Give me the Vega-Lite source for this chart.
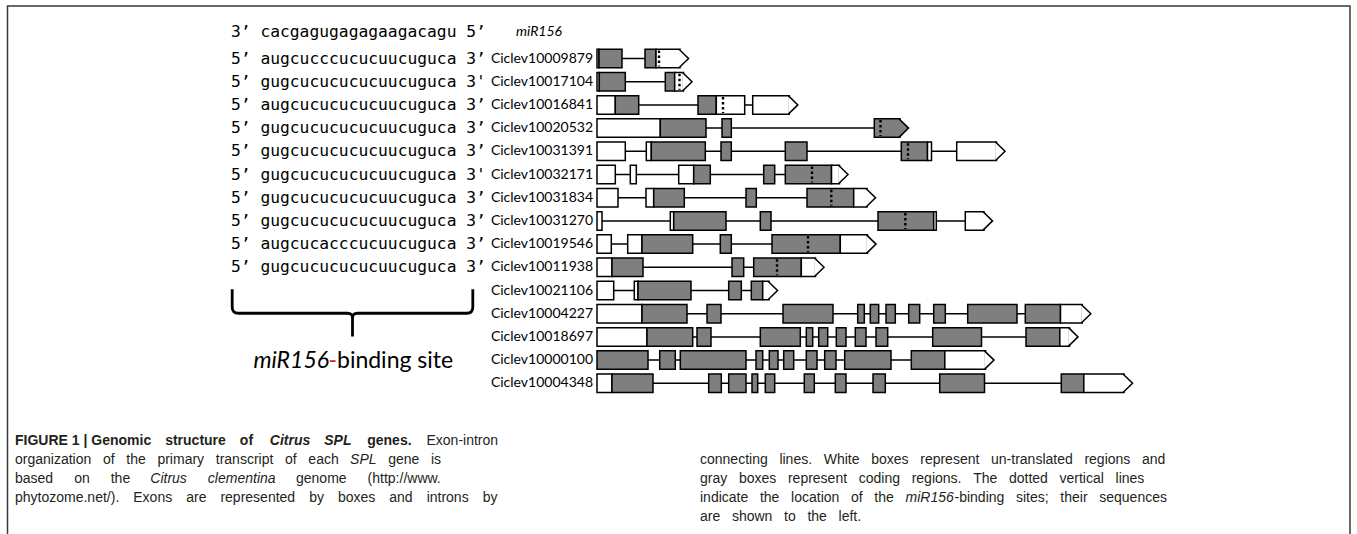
{
  "$schema": "https://vega.github.io/schema/vega-lite/v6.json",
  "width": 1357,
  "height": 534,
  "padding": 0,
  "autosize": {"type": "none"},
  "background": "white",
  "config": {"view": {"stroke": null}, "axis": {"disable": true}, "legend": {"disable": true}},
  "datasets": {
    "exons": [
      {"i":0,"s":0,"e":2,"t":"UTR"},{"i":0,"s":2,"e":25,"t":"CDS"},{"i":0,"s":48,"e":59,"t":"CDS"},{"i":0,"s":59,"e":83,"t":"UTR","a":1},
      {"i":1,"s":0,"e":2.3,"t":"UTR"},{"i":1,"s":2.3,"e":28.3,"t":"CDS"},{"i":1,"s":68.3,"e":77.7,"t":"CDS"},{"i":1,"s":77.7,"e":86.5,"t":"UTR","a":1},
      {"i":2,"s":0,"e":18.3,"t":"UTR"},{"i":2,"s":18.3,"e":41.7,"t":"CDS"},{"i":2,"s":101,"e":119.3,"t":"CDS"},{"i":2,"s":119.3,"e":147.7,"t":"UTR"},{"i":2,"s":155.7,"e":192.3,"t":"UTR","a":1},
      {"i":3,"s":0,"e":63.3,"t":"UTR"},{"i":3,"s":63.3,"e":109,"t":"CDS"},{"i":3,"s":125,"e":134.3,"t":"CDS"},{"i":3,"s":277.3,"e":303,"t":"CDS","a":1},
      {"i":4,"s":0,"e":28.3,"t":"UTR"},{"i":4,"s":49.3,"e":54.3,"t":"UTR"},{"i":4,"s":54.3,"e":108.3,"t":"CDS"},{"i":4,"s":124,"e":134.3,"t":"CDS"},{"i":4,"s":188.3,"e":210,"t":"CDS"},{"i":4,"s":304.3,"e":330.5,"t":"CDS"},{"i":4,"s":330.5,"e":334.5,"t":"UTR"},{"i":4,"s":359.7,"e":399.5,"t":"UTR","a":1},
      {"i":5,"s":0,"e":18.3,"t":"UTR"},{"i":5,"s":33.3,"e":39.3,"t":"UTR"},{"i":5,"s":81.7,"e":96.7,"t":"UTR"},{"i":5,"s":96.7,"e":113.3,"t":"CDS"},{"i":5,"s":166.7,"e":177.7,"t":"CDS"},{"i":5,"s":188.3,"e":234.5,"t":"CDS"},{"i":5,"s":234.5,"e":242.5,"t":"UTR","a":1},
      {"i":6,"s":0,"e":21,"t":"UTR"},{"i":6,"s":49,"e":56.7,"t":"UTR"},{"i":6,"s":56.7,"e":87.3,"t":"CDS"},{"i":6,"s":149,"e":159.3,"t":"CDS"},{"i":6,"s":210,"e":256.7,"t":"CDS"},{"i":6,"s":256.7,"e":270,"t":"UTR","a":1},
      {"i":7,"s":0,"e":5,"t":"UTR"},{"i":7,"s":73.3,"e":76.7,"t":"UTR"},{"i":7,"s":76.7,"e":129,"t":"CDS"},{"i":7,"s":163.3,"e":174,"t":"CDS"},{"i":7,"s":281,"e":336.7,"t":"CDS"},{"i":7,"s":336.7,"e":339.3,"t":"UTR"},{"i":7,"s":368.3,"e":387,"t":"UTR","a":1},
      {"i":8,"s":0,"e":14.3,"t":"UTR"},{"i":8,"s":30.7,"e":45,"t":"UTR"},{"i":8,"s":45,"e":95.7,"t":"CDS"},{"i":8,"s":123.3,"e":134.3,"t":"CDS"},{"i":8,"s":175,"e":243.3,"t":"CDS"},{"i":8,"s":243.3,"e":270.5,"t":"UTR","a":1},
      {"i":9,"s":0,"e":15,"t":"UTR"},{"i":9,"s":15,"e":46,"t":"CDS"},{"i":9,"s":135,"e":146.7,"t":"CDS"},{"i":9,"s":156.7,"e":204.3,"t":"CDS"},{"i":9,"s":204.3,"e":218.5,"t":"UTR","a":1},
      {"i":10,"s":0,"e":16.7,"t":"UTR"},{"i":10,"s":37.3,"e":41,"t":"UTR"},{"i":10,"s":41,"e":94,"t":"CDS"},{"i":10,"s":131.7,"e":144.3,"t":"CDS"},{"i":10,"s":154.3,"e":165.7,"t":"CDS"},{"i":10,"s":165.7,"e":172,"t":"UTR","a":1},
      {"i":11,"s":0,"e":45,"t":"UTR"},{"i":11,"s":45,"e":90,"t":"CDS"},{"i":11,"s":110,"e":124,"t":"CDS"},{"i":11,"s":186,"e":236,"t":"CDS"},{"i":11,"s":260.7,"e":267.3,"t":"CDS"},{"i":11,"s":273.3,"e":281.7,"t":"CDS"},{"i":11,"s":289,"e":298.3,"t":"CDS"},{"i":11,"s":311.7,"e":322.7,"t":"CDS"},{"i":11,"s":336.7,"e":348.3,"t":"CDS"},{"i":11,"s":370.7,"e":420,"t":"CDS"},{"i":11,"s":428.3,"e":463.5,"t":"CDS"},{"i":11,"s":463.5,"e":485.3,"t":"UTR","a":1},
      {"i":12,"s":0,"e":50,"t":"UTR"},{"i":12,"s":50,"e":95.7,"t":"CDS"},{"i":12,"s":100,"e":114,"t":"CDS"},{"i":12,"s":163.3,"e":203.3,"t":"CDS"},{"i":12,"s":209.3,"e":215.7,"t":"CDS"},{"i":12,"s":221.7,"e":230.7,"t":"CDS"},{"i":12,"s":239.3,"e":249,"t":"CDS"},{"i":12,"s":258.3,"e":269,"t":"CDS"},{"i":12,"s":279,"e":290.7,"t":"CDS"},{"i":12,"s":335.7,"e":384.5,"t":"CDS"},{"i":12,"s":429,"e":462.8,"t":"CDS"},{"i":12,"s":462.8,"e":472.5,"t":"UTR","a":1},
      {"i":13,"s":0,"e":51,"t":"CDS"},{"i":13,"s":62.7,"e":78.3,"t":"CDS"},{"i":13,"s":83.3,"e":149,"t":"CDS"},{"i":13,"s":159,"e":165.7,"t":"CDS"},{"i":13,"s":172.3,"e":181,"t":"CDS"},{"i":13,"s":186.7,"e":196.7,"t":"CDS"},{"i":13,"s":209.3,"e":220,"t":"CDS"},{"i":13,"s":227.7,"e":239,"t":"CDS"},{"i":13,"s":247.7,"e":294,"t":"CDS"},{"i":13,"s":314.3,"e":347.8,"t":"CDS"},{"i":13,"s":347.8,"e":388.5,"t":"UTR","a":1},
      {"i":14,"s":0,"e":15,"t":"UTR"},{"i":14,"s":15,"e":56,"t":"CDS"},{"i":14,"s":111.7,"e":124.3,"t":"CDS"},{"i":14,"s":131.7,"e":149,"t":"CDS"},{"i":14,"s":155,"e":160.7,"t":"CDS"},{"i":14,"s":168.3,"e":177.7,"t":"CDS"},{"i":14,"s":207.3,"e":217.3,"t":"CDS"},{"i":14,"s":238.3,"e":249,"t":"CDS"},{"i":14,"s":276,"e":288.3,"t":"CDS"},{"i":14,"s":342.7,"e":387.5,"t":"CDS"},{"i":14,"s":464.3,"e":486.8,"t":"CDS"},{"i":14,"s":486.8,"e":527,"t":"UTR","a":1}
    ],
    "sites": [
      {"i":0,"p":62},{"i":1,"p":82.5},{"i":2,"p":126},{"i":3,"p":283.5},{"i":4,"p":311},
      {"i":5,"p":215},{"i":6,"p":234.3},{"i":7,"p":308.3},{"i":8,"p":211},{"i":9,"p":180}
    ],
    "genes": [
      {"i":0,"g":"Ciclev10009879","q":"5’ augcucccucucuucuguca 3’"},
      {"i":1,"g":"Ciclev10017104","q":"5’ gugcucucucucuucuguca 3'"},
      {"i":2,"g":"Ciclev10016841","q":"5’ augcucucucucuucuguca 3’"},
      {"i":3,"g":"Ciclev10020532","q":"5’ gugcucucucucuucuguca 3’"},
      {"i":4,"g":"Ciclev10031391","q":"5’ gugcucucucucuucuguca 3’"},
      {"i":5,"g":"Ciclev10032171","q":"5’ gugcucucucucuucuguca 3'"},
      {"i":6,"g":"Ciclev10031834","q":"5’ gugcucucucucuucuguca 3’"},
      {"i":7,"g":"Ciclev10031270","q":"5’ gugcucucucucuucuguca 3’"},
      {"i":8,"g":"Ciclev10019546","q":"5’ augcucacccucuucuguca 3’"},
      {"i":9,"g":"Ciclev10011938","q":"5’ gugcucucucucuucuguca 3’"},
      {"i":10,"g":"Ciclev10021106"},
      {"i":11,"g":"Ciclev10004227"},
      {"i":12,"g":"Ciclev10018697"},
      {"i":13,"g":"Ciclev10000100"},
      {"i":14,"g":"Ciclev10004348"}
    ],
    "caption": [
      {"k":"b1","ln":0,"txt":"FIGURE 1 | Genomic\u2003structure\u2003of"},
      {"k":"bi","ln":0,"txt":"Citrus\u2003SPL"},
      {"k":"b2","ln":0,"txt":"genes."},
      {"k":"r426","ln":0,"txt":"Exon-intron"},
      {"k":"r15","ln":1,"txt":"organization\u2002\u2004of\u2002\u2004the\u2002\u2004primary\u2002\u2004transcript\u2002\u2004of\u2002\u2004each"},
      {"k":"i350","ln":1,"txt":"SPL"},
      {"k":"r388","ln":1,"txt":"gene\u2002\u2004is"},
      {"k":"r15","ln":2,"txt":"based\u2003\u2002on\u2003\u2002the"},
      {"k":"i150","ln":2,"txt":"Citrus\u2003\u2002clementina"},
      {"k":"r296","ln":2,"txt":"genome\u2003\u2002(http://www."},
      {"k":"r15","ln":3,"txt":"phytozome.net/).\u2003Exons\u2003are\u2003represented\u2003by\u2003boxes\u2003and\u2003introns\u2003by"},
      {"k":"r700","ln":1,"txt":"connecting\u2002\u2004lines.\u2002\u2004White\u2002\u2004boxes\u2002\u2004represent\u2002\u2004un-translated\u2002\u2004regions\u2002\u2004and"},
      {"k":"r700","ln":2,"txt":"gray\u2002\u2004boxes\u2002\u2004represent\u2002\u2004coding\u2002\u2004regions.\u2002\u2004The\u2002\u2004dotted\u2002\u2004vertical\u2002\u2004lines"},
      {"k":"r700","ln":3,"txt":"indicate\u2002\u2004the\u2002\u2004location\u2002\u2004of\u2002\u2004the"},
      {"k":"i905","ln":3,"txt":"miR156"},
      {"k":"r954","ln":3,"txt":"-binding\u2002\u2004sites;\u2002\u2004their\u2002\u2004sequences"},
      {"k":"r700","ln":4,"txt":"are\u2002\u2004shown\u2002\u2004to\u2002\u2004the\u2002\u2004left."}
    ]
  },
  "layer": [
    {
      "layer": [
        {
          "data": {"name": "exons"},
          "transform": [{"aggregate": [{"op": "min", "field": "s", "as": "s0"}, {"op": "max", "field": "e", "as": "e1"}], "groupby": ["i"]}],
          "mark": {"type": "rule", "stroke": "black", "strokeWidth": 1.5},
          "encoding": {
            "x": {"field": "s0", "type": "quantitative", "scale": {"domain": [-597, 760], "nice": false, "zero": false}},
            "x2": {"field": "e1"},
            "y": {"field": "i", "type": "quantitative", "scale": {"domain": [-2.5216, 20.4957], "reverse": true, "nice": false, "zero": false}}
          }
        },
        {
          "data": {"name": "exons"},
          "mark": {"type": "rect", "stroke": "black", "strokeWidth": 1.5, "yOffset": -9.25, "y2Offset": 9.25},
          "encoding": {
            "x": {"field": "s", "type": "quantitative", "scale": {"domain": [-597, 760], "nice": false, "zero": false}},
            "x2": {"field": "e"},
            "y": {"field": "i", "type": "quantitative", "scale": {"domain": [-2.5216, 20.4957], "reverse": true, "nice": false, "zero": false}},
            "y2": {"field": "i"},
            "fill": {"field": "t", "type": "nominal", "scale": {"domain": ["UTR", "CDS"], "range": ["#ffffff", "#7f7f7f"]}, "legend": null}
          }
        },
        {
          "data": {"name": "exons"},
          "transform": [{"filter": "datum.a === 1"}],
          "mark": {"type": "point", "shape": "M 0 -1 L 1.03 0 L 0 1", "size": 342.25, "filled": true, "opacity": 1, "stroke": "black", "strokeWidth": 1.5, "xOffset": -1},
          "encoding": {
            "x": {"field": "e", "type": "quantitative", "scale": {"domain": [-597, 760], "nice": false, "zero": false}},
            "y": {"field": "i", "type": "quantitative", "scale": {"domain": [-2.5216, 20.4957], "reverse": true, "nice": false, "zero": false}},
            "fill": {"field": "t", "type": "nominal", "scale": {"domain": ["UTR", "CDS"], "range": ["#ffffff", "#7f7f7f"]}, "legend": null}
          }
        },
        {
          "data": {"name": "sites"},
          "mark": {"type": "rule", "stroke": "black", "strokeWidth": 2.4, "strokeDash": [2.5, 2.5], "yOffset": -8, "y2Offset": 8},
          "encoding": {
            "x": {"field": "p", "type": "quantitative", "scale": {"domain": [-597, 760], "nice": false, "zero": false}},
            "y": {"field": "i", "type": "quantitative", "scale": {"domain": [-2.5216, 20.4957], "reverse": true, "nice": false, "zero": false}},
            "y2": {"field": "i"}
          }
        },
        {
          "data": {"name": "genes"},
          "mark": {"type": "text", "align": "right", "baseline": "middle", "font": "Lato", "fontSize": 14, "color": "black"},
          "encoding": {
            "x": {"datum": -4, "type": "quantitative", "scale": {"domain": [-597, 760], "nice": false, "zero": false}},
            "y": {"field": "i", "type": "quantitative", "scale": {"domain": [-2.5216, 20.4957], "reverse": true, "nice": false, "zero": false}},
            "text": {"field": "g"}
          }
        },
        {
          "data": {"name": "genes"},
          "transform": [{"filter": "datum.q"}],
          "mark": {"type": "text", "align": "left", "baseline": "middle", "font": "DejaVu Sans Mono", "fontSize": 16.3, "color": "black"},
          "encoding": {
            "x": {"datum": -366, "type": "quantitative", "scale": {"domain": [-597, 760], "nice": false, "zero": false}},
            "y": {"field": "i", "type": "quantitative", "scale": {"domain": [-2.5216, 20.4957], "reverse": true, "nice": false, "zero": false}},
            "text": {"field": "q"}
          }
        },
        {
          "data": {"values": [{"q": "3’ cacgagugagagaagacagu 5’", "lab": "miR156"}]},
          "layer": [
            {
              "mark": {"type": "text", "align": "left", "baseline": "middle", "font": "DejaVu Sans Mono", "fontSize": 16.3, "color": "black"},
              "encoding": {
                "x": {"datum": -366, "type": "quantitative", "scale": {"domain": [-597, 760], "nice": false, "zero": false}},
                "y": {"datum": -1.15, "type": "quantitative", "scale": {"domain": [-2.5216, 20.4957], "reverse": true, "nice": false, "zero": false}},
                "text": {"field": "q"}
              }
            },
            {
              "mark": {"type": "text", "align": "center", "baseline": "middle", "font": "Lato", "fontStyle": "italic", "fontSize": 14, "color": "black"},
              "encoding": {
                "x": {"datum": -58, "type": "quantitative", "scale": {"domain": [-597, 760], "nice": false, "zero": false}},
                "y": {"datum": -1.15, "type": "quantitative", "scale": {"domain": [-2.5216, 20.4957], "reverse": true, "nice": false, "zero": false}},
                "text": {"field": "lab"}
              }
            }
          ]
        },
        {
          "data": {"values": [{"a": "miR156", "b": "-", "c": "binding site"}]},
          "layer": [
            {
              "mark": {"type": "point", "shape": "M -1 -0.2 L -1 -0.05 Q -1 0 -0.95 0 L -0.04 0 Q 0 0 0 0.04 L 0 0.194 M 0 0.04 Q 0 0 0.04 0 L 0.95 0 Q 1 0 1 -0.05 L 1 -0.2", "size": 57888, "filled": false, "opacity": 1, "stroke": "black", "strokeWidth": 2.8},
              "encoding": {
                "x": {"datum": -244.5, "type": "quantitative", "scale": {"domain": [-597, 760], "nice": false, "zero": false}},
                "y": {"datum": 10.98, "type": "quantitative", "scale": {"domain": [-2.5216, 20.4957], "reverse": true, "nice": false, "zero": false}}
              }
            },
            {
              "mark": {"type": "text", "align": "right", "baseline": "middle", "font": "Lato", "fontStyle": "italic", "fontSize": 23, "color": "black"},
              "encoding": {
                "x": {"datum": -268, "type": "quantitative", "scale": {"domain": [-597, 760], "nice": false, "zero": false}},
                "y": {"datum": 13.02, "type": "quantitative", "scale": {"domain": [-2.5216, 20.4957], "reverse": true, "nice": false, "zero": false}},
                "text": {"field": "a"}
              }
            },
            {
              "mark": {"type": "text", "align": "center", "baseline": "middle", "font": "Lato", "fontSize": 23, "color": "#e0201b"},
              "encoding": {
                "x": {"datum": -264.3, "type": "quantitative", "scale": {"domain": [-597, 760], "nice": false, "zero": false}},
                "y": {"datum": 13.02, "type": "quantitative", "scale": {"domain": [-2.5216, 20.4957], "reverse": true, "nice": false, "zero": false}},
                "text": {"field": "b"}
              }
            },
            {
              "mark": {"type": "text", "align": "left", "baseline": "middle", "font": "Lato", "fontSize": 23, "color": "black"},
              "encoding": {
                "x": {"datum": -260, "type": "quantitative", "scale": {"domain": [-597, 760], "nice": false, "zero": false}},
                "y": {"datum": 13.02, "type": "quantitative", "scale": {"domain": [-2.5216, 20.4957], "reverse": true, "nice": false, "zero": false}},
                "text": {"field": "c"}
              }
            }
          ]
        }
      ]
    },
    {
      "layer": [
        {
          "data": {"values": [{"frame": 1}]},
          "mark": {"type": "rect", "filled": false, "fill": null, "stroke": "#3a3a3a", "strokeWidth": 1.5},
          "encoding": {
            "x": {"datum": 7.5, "type": "quantitative", "scale": {"domain": [0, 1357], "nice": false, "zero": false}},
            "x2": {"datum": 1350},
            "y": {"datum": -22.895, "type": "quantitative", "scale": {"domain": [-23.2105, 4.8947], "reverse": true, "nice": false, "zero": false}},
            "y2": {"datum": 6}
          }
        },
        {
          "data": {"name": "caption"},
          "transform": [{"filter": "datum.k === 'b1'"}],
          "mark": {"type": "text", "align": "left", "baseline": "middle", "font": "Liberation Sans", "fontWeight": "bold", "fontSize": 14, "color": "#231f20"},
          "encoding": {
            "x": {"datum": 15, "type": "quantitative", "scale": {"domain": [0, 1357], "nice": false, "zero": false}},
            "y": {"field": "ln", "type": "quantitative", "scale": {"domain": [-23.2105, 4.8947], "reverse": true, "nice": false, "zero": false}},
            "text": {"field": "txt"}
          }
        },
        {
          "data": {"name": "caption"},
          "transform": [{"filter": "datum.k === 'bi'"}],
          "mark": {"type": "text", "align": "left", "baseline": "middle", "font": "Liberation Sans", "fontWeight": "bold", "fontStyle": "italic", "fontSize": 14, "color": "#231f20"},
          "encoding": {
            "x": {"datum": 269.8, "type": "quantitative", "scale": {"domain": [0, 1357], "nice": false, "zero": false}},
            "y": {"field": "ln", "type": "quantitative", "scale": {"domain": [-23.2105, 4.8947], "reverse": true, "nice": false, "zero": false}},
            "text": {"field": "txt"}
          }
        },
        {
          "data": {"name": "caption"},
          "transform": [{"filter": "datum.k === 'b2'"}],
          "mark": {"type": "text", "align": "left", "baseline": "middle", "font": "Liberation Sans", "fontWeight": "bold", "fontSize": 14, "color": "#231f20"},
          "encoding": {
            "x": {"datum": 367.2, "type": "quantitative", "scale": {"domain": [0, 1357], "nice": false, "zero": false}},
            "y": {"field": "ln", "type": "quantitative", "scale": {"domain": [-23.2105, 4.8947], "reverse": true, "nice": false, "zero": false}},
            "text": {"field": "txt"}
          }
        },
        {
          "data": {"name": "caption"},
          "transform": [{"filter": "datum.k === 'r426'"}],
          "mark": {"type": "text", "align": "left", "baseline": "middle", "font": "Liberation Sans", "fontSize": 14, "color": "#231f20"},
          "encoding": {
            "x": {"datum": 426.5, "type": "quantitative", "scale": {"domain": [0, 1357], "nice": false, "zero": false}},
            "y": {"field": "ln", "type": "quantitative", "scale": {"domain": [-23.2105, 4.8947], "reverse": true, "nice": false, "zero": false}},
            "text": {"field": "txt"}
          }
        },
        {
          "data": {"name": "caption"},
          "transform": [{"filter": "datum.k === 'r15'"}],
          "mark": {"type": "text", "align": "left", "baseline": "middle", "font": "Liberation Sans", "fontSize": 14, "color": "#231f20"},
          "encoding": {
            "x": {"datum": 15, "type": "quantitative", "scale": {"domain": [0, 1357], "nice": false, "zero": false}},
            "y": {"field": "ln", "type": "quantitative", "scale": {"domain": [-23.2105, 4.8947], "reverse": true, "nice": false, "zero": false}},
            "text": {"field": "txt"}
          }
        },
        {
          "data": {"name": "caption"},
          "transform": [{"filter": "datum.k === 'i350'"}],
          "mark": {"type": "text", "align": "left", "baseline": "middle", "font": "Liberation Sans", "fontStyle": "italic", "fontSize": 14, "color": "#231f20"},
          "encoding": {
            "x": {"datum": 350.1, "type": "quantitative", "scale": {"domain": [0, 1357], "nice": false, "zero": false}},
            "y": {"field": "ln", "type": "quantitative", "scale": {"domain": [-23.2105, 4.8947], "reverse": true, "nice": false, "zero": false}},
            "text": {"field": "txt"}
          }
        },
        {
          "data": {"name": "caption"},
          "transform": [{"filter": "datum.k === 'r388'"}],
          "mark": {"type": "text", "align": "left", "baseline": "middle", "font": "Liberation Sans", "fontSize": 14, "color": "#231f20"},
          "encoding": {
            "x": {"datum": 388.2, "type": "quantitative", "scale": {"domain": [0, 1357], "nice": false, "zero": false}},
            "y": {"field": "ln", "type": "quantitative", "scale": {"domain": [-23.2105, 4.8947], "reverse": true, "nice": false, "zero": false}},
            "text": {"field": "txt"}
          }
        },
        {
          "data": {"name": "caption"},
          "transform": [{"filter": "datum.k === 'i150'"}],
          "mark": {"type": "text", "align": "left", "baseline": "middle", "font": "Liberation Sans", "fontStyle": "italic", "fontSize": 14, "color": "#231f20"},
          "encoding": {
            "x": {"datum": 150.3, "type": "quantitative", "scale": {"domain": [0, 1357], "nice": false, "zero": false}},
            "y": {"field": "ln", "type": "quantitative", "scale": {"domain": [-23.2105, 4.8947], "reverse": true, "nice": false, "zero": false}},
            "text": {"field": "txt"}
          }
        },
        {
          "data": {"name": "caption"},
          "transform": [{"filter": "datum.k === 'r296'"}],
          "mark": {"type": "text", "align": "left", "baseline": "middle", "font": "Liberation Sans", "fontSize": 14, "color": "#231f20"},
          "encoding": {
            "x": {"datum": 296, "type": "quantitative", "scale": {"domain": [0, 1357], "nice": false, "zero": false}},
            "y": {"field": "ln", "type": "quantitative", "scale": {"domain": [-23.2105, 4.8947], "reverse": true, "nice": false, "zero": false}},
            "text": {"field": "txt"}
          }
        },
        {
          "data": {"name": "caption"},
          "transform": [{"filter": "datum.k === 'r700'"}],
          "mark": {"type": "text", "align": "left", "baseline": "middle", "font": "Liberation Sans", "fontSize": 14, "color": "#231f20"},
          "encoding": {
            "x": {"datum": 700, "type": "quantitative", "scale": {"domain": [0, 1357], "nice": false, "zero": false}},
            "y": {"field": "ln", "type": "quantitative", "scale": {"domain": [-23.2105, 4.8947], "reverse": true, "nice": false, "zero": false}},
            "text": {"field": "txt"}
          }
        },
        {
          "data": {"name": "caption"},
          "transform": [{"filter": "datum.k === 'i905'"}],
          "mark": {"type": "text", "align": "left", "baseline": "middle", "font": "Liberation Sans", "fontStyle": "italic", "fontSize": 14, "color": "#231f20"},
          "encoding": {
            "x": {"datum": 905.5, "type": "quantitative", "scale": {"domain": [0, 1357], "nice": false, "zero": false}},
            "y": {"field": "ln", "type": "quantitative", "scale": {"domain": [-23.2105, 4.8947], "reverse": true, "nice": false, "zero": false}},
            "text": {"field": "txt"}
          }
        },
        {
          "data": {"name": "caption"},
          "transform": [{"filter": "datum.k === 'r954'"}],
          "mark": {"type": "text", "align": "left", "baseline": "middle", "font": "Liberation Sans", "fontSize": 14, "color": "#231f20"},
          "encoding": {
            "x": {"datum": 954.5, "type": "quantitative", "scale": {"domain": [0, 1357], "nice": false, "zero": false}},
            "y": {"field": "ln", "type": "quantitative", "scale": {"domain": [-23.2105, 4.8947], "reverse": true, "nice": false, "zero": false}},
            "text": {"field": "txt"}
          }
        }
      ]
    }
  ],
  "resolve": {"scale": {"x": "independent", "y": "independent"}}
}
